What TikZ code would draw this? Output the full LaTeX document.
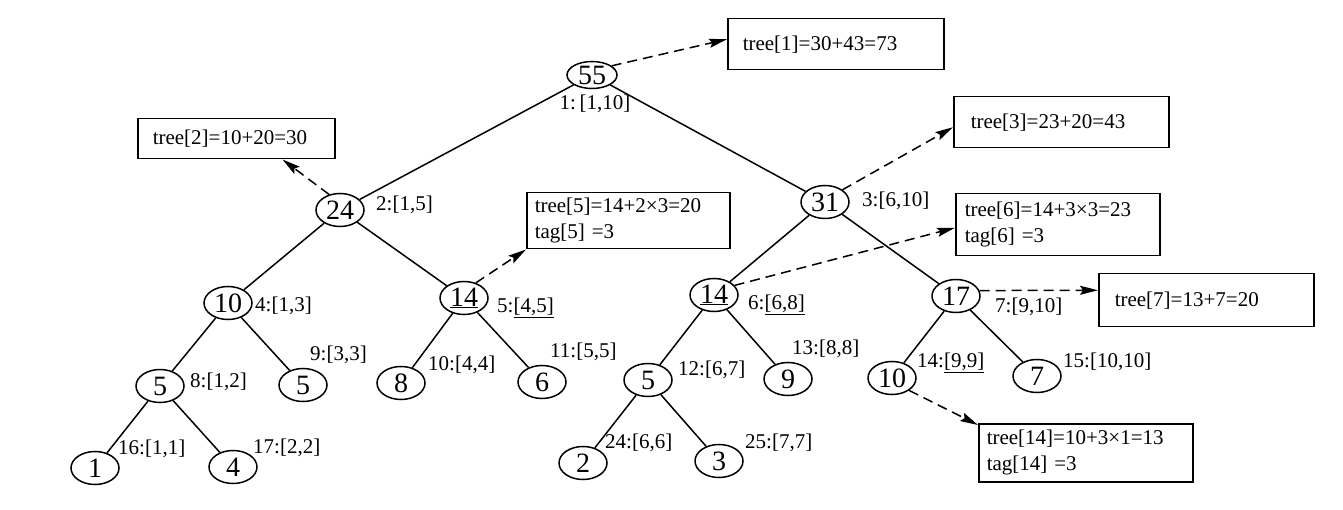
\documentclass[tikz,border=0pt]{standalone}
\usepackage{fontspec}
\setmainfont{Liberation Serif}
\usetikzlibrary{arrows.meta,shapes.geometric}
\begin{document}
\begin{tikzpicture}[x=1pt,y=-1pt,
 nd/.style={ellipse,draw,line width=1.5pt,minimum width=48pt,minimum height=33pt,inner sep=0pt,font=\fontsize{28}{28}\selectfont},
 lbl/.style={font=\fontsize{21}{21}\selectfont,inner sep=0pt,anchor=west},
 bx/.style={draw,line width=1.5pt,font=\fontsize{21}{26}\selectfont,align=left,anchor=north west,inner ysep=0pt},
 edge/.style={line width=1.5pt},
 dsh/.style={line width=1.5pt,dash pattern=on 10pt off 6pt,-{Stealth[length=18pt,width=9pt,inset=3pt]}}]
\useasboundingbox (0,0) rectangle (1343,510);
% tree nodes
\node[nd,minimum width=50pt,minimum height=27pt] (n1) at (592,75) {55};
\node[nd] (n2) at (340,210) {24};
\node[nd] (n3) at (825,202) {31};
\node[nd] (n4) at (228,303) {10};
\node[nd] (n5) at (464,298) {\underline{14}};
\node[nd] (n6) at (714,295) {\underline{14}};
\node[nd] (n7) at (956,296) {17};
\node[nd] (n8) at (160,386) {5};
\node[nd] (n9) at (303,385) {5};
\node[nd] (n10) at (401,383) {8};
\node[nd] (n11) at (542,382) {6};
\node[nd] (n12) at (648,380) {5};
\node[nd] (n13) at (788,379) {9};
\node[nd] (n14) at (892,378) {10};
\node[nd] (n15) at (1037,376) {7};
\node[nd] (n16) at (95,468) {1};
\node[nd] (n17) at (233,467) {4};
\node[nd] (n24) at (583,463) {2};
\node[nd] (n25) at (719,461) {3};
% edges
\foreach \a/\b in {n1/n2,n1/n3,n2/n4,n2/n5,n3/n6,n3/n7,n4/n8,n4/n9,n5/n10,n5/n11,n6/n12,n6/n13,n7/n14,n7/n15,n8/n16,n8/n17,n12/n24,n12/n25}
  \draw[edge] (\a) -- (\b);
% labels
\node[lbl,anchor=center] (l1) at (595,104) {1:\,[1,10]};
\node[lbl] (l2) at (376,205) {2:[1,5]};
\node[lbl] (l3) at (862,201) {3:[6,10]};
\node[lbl] (l4) at (255,306) {4:[1,3]};
\node[lbl] (l5) at (497,308) {5:\underline{[4,5]}};
\node[lbl] (l6) at (748,305) {6:\underline{[6,8]}};
\node[lbl] (l7) at (995,307) {7:[9,10]};
\node[lbl] (l8) at (190,382) {8:[1,2]};
\node[lbl] (l9) at (310,355) {9:[3,3]};
\node[lbl] (l10) at (428,365) {10:[4,4]};
\node[lbl] (l11) at (550,352) {11:[5,5]};
\node[lbl] (l12) at (678,370) {12:[6,7]};
\node[lbl] (l13) at (792,349) {13:[8,8]};
\node[lbl] (l14) at (917,363) {14:\underline{[9,9]}};
\node[lbl] (l15) at (1063,362) {15:[10,10]};
\node[lbl] (l16) at (118,449) {16:[1,1]};
\node[lbl] (l17) at (253,448) {17:[2,2]};
\node[lbl] (l24) at (605,443) {24:[6,6]};
\node[lbl] (l25) at (745,443) {25:[7,7]};
% boxes
\node[bx,inner xsep=15pt,text width=186pt,minimum height=51pt] (b1) at (727,18) {tree[1]=30+43=73};
\node[bx,inner xsep=15pt,text width=167pt,minimum height=40pt] (b2) at (137,118) {tree[2]=10+20=30};
\node[bx,inner xsep=17pt,text width=181pt,minimum height=51pt] (b3) at (953,96) {tree[3]=23+20=43};
\node[bx,inner xsep=8pt,text width=187pt,minimum height=56pt] (b5) at (526,192) {tree[5]=14+2×3=20\\tag[5] =3};
\node[bx,inner xsep=9pt,text width=186pt,minimum height=62pt] (b6) at (955,193) {tree[6]=14+3×3=23\\tag[6] =3};
\node[bx,inner xsep=16pt,text width=183pt,minimum height=53pt] (b7) at (1098,273) {tree[7]=13+7=20};
\node[bx,inner xsep=8pt,text width=198pt,minimum height=58pt] (b14) at (978,423) {tree[14]=10+3×1=13\\tag[14] =3};
% dashed arrows
\draw[dsh] (n1.25) -- ([yshift=5pt]b1.west);
\draw[dsh] (n2.125) -- ([xshift=-53pt]b2.south east);
\draw[dsh] (n3.35) -- ([yshift=-5pt]b3.west);
\draw[dsh] (n5.52) -- (b5.south west);
\draw[dsh] (n6.25) -- ([yshift=-3pt]b6.west);
\draw[dsh] (n7.13) -- ([yshift=10pt]b7.west);
\draw[dsh] (n14.-36) -- ([yshift=-2pt]b14.north west);
\end{tikzpicture}
\end{document}
